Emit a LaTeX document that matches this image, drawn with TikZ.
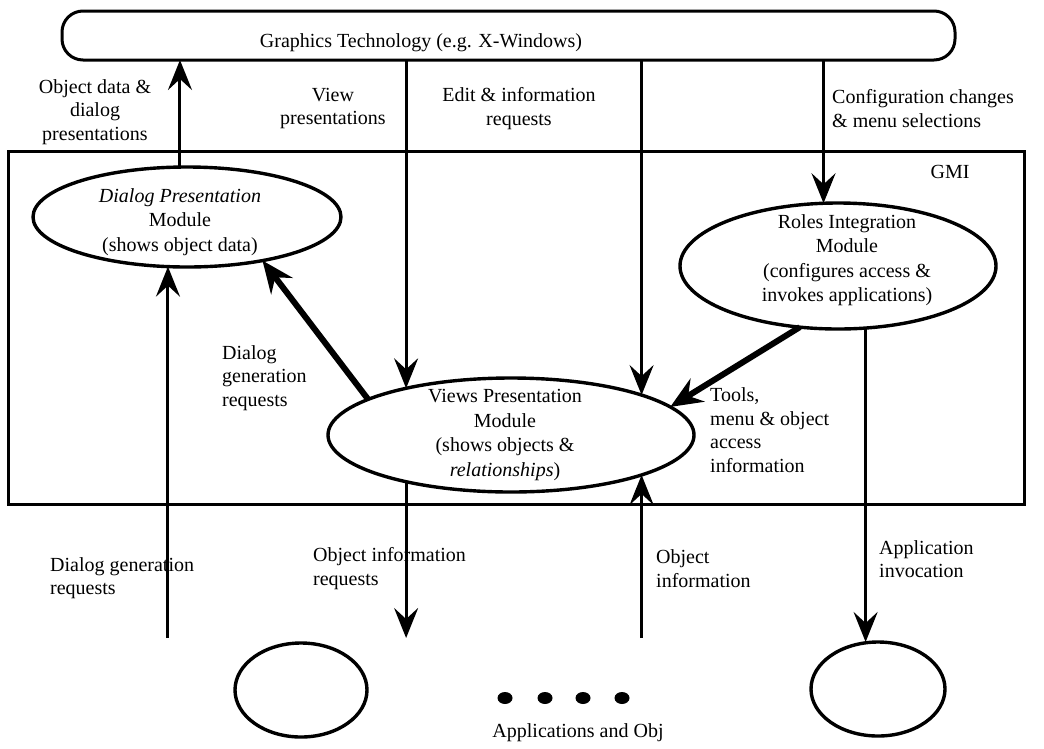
\documentclass[tikz,border=0pt]{standalone}
\usepackage{fontspec}
\setmainfont{Liberation Serif}
\usetikzlibrary{arrows.meta,shapes.geometric}

\begin{document}
\begin{tikzpicture}[x=1pt,y=-1pt,
  txt/.style={font=\fontsize{20}{23.5}\selectfont, inner sep=0pt},
  modtxt/.style={font=\fontsize{20}{24.5}\selectfont, inner sep=0pt, align=center},
  module/.style={ellipse, draw, line width=3.4pt, inner sep=0pt, outer sep=0pt},
  frame/.style={draw, line width=3pt, inner sep=0pt, outer sep=0pt},
  flow/.style={line width=3pt, -{Stealth[length=30pt,width=24pt,inset=11pt]}},
  heavy/.style={line width=6pt, -{Stealth[length=32pt,width=27pt,inset=11pt]}},
  blob/.style={ellipse, fill, inner sep=0pt, minimum width=15pt, minimum height=12pt}
]
\useasboundingbox (0,0) rectangle (1044,748);

% graphics layer and GMI frame
\node[frame, rounded corners=21pt, minimum width=893pt, minimum height=49pt] (gt) at (508.5,35.5) {};
\node[txt] (gtlabel) at (421,43) {Graphics Technology (e.g. X-Windows)};
\node[frame, minimum width=1016pt, minimum height=353pt] (gmi) at (516,327.5) {};
\node[txt] (gmilabel) at (950,172) {GMI};

% modules
\node[module, minimum width=308pt, minimum height=100pt] (dpm) at (187,217) {};
\node[modtxt] (dpmtext) at (180,222) {\textit{Dialog Presentation}\\Module\\(shows object data)};
\node[module, minimum width=366pt, minimum height=114pt] (vpm) at (511,435) {};
\node[modtxt] (vpmtext) at (505,435) {Views Presentation\\Module\\(shows objects \&\\\textit{relationships})};
\node[module, minimum width=316pt, minimum height=126pt] (rim) at (838,266) {};
\node[modtxt] (rimtext) at (847,260) {Roles Integration\\Module\\(configures access \&\\invokes applications)};

% applications and objects
\node[module, minimum width=132pt, minimum height=94pt] (app1) at (301,690) {};
\node[module, minimum width=134pt, minimum height=94pt] (app2) at (878,689) {};
\node[blob] (dot1) at (505,698) {};
\node[blob] (dot2) at (545,698) {};
\node[blob] (dot3) at (583,698) {};
\node[blob] (dot4) at (622,698) {};
\node[txt] (applabel) at (578,733) {Applications and Obj};

% free ends of the connectors below the frame
\coordinate (ends) at (0,638);

% connectors
\draw[flow] (dpm.98) -- (dpm.98 |- gt.south);
\draw[flow] (vpm.156 |- gt.south) -- (vpm.156);
\draw[flow] (vpm.17 |- gt.south) -- (vpm.17);
\draw[flow] (rim.103 |- gt.south) -- (rim.103);
\draw[heavy] (vpm.166) -- (dpm.-30);
\draw[heavy] (rim.-122) -- (vpm.10);
\draw[flow] (dpm.-111 |- ends) -- (dpm.-111);
\draw[flow] (vpm.-156) -- (vpm.-156 |- ends);
\draw[flow] (vpm.-17 |- ends) -- (vpm.-17);
\draw[flow] (rim.-66) -- (rim.-66 |- app2.north);

% connector labels
\node[txt, align=center] (lblobj) at (95,112) {Object data \&\\dialog\\presentations};
\node[txt, align=center] (lblview) at (333,108.5) {View\\presentations};
\node[txt, align=center] (lbledit) at (519,108.5) {Edit \& information\\requests};
\node[txt, align=left, anchor=west] (lblconf) at (832,108.5) {Configuration changes\\\& menu selections};
\node[txt, align=left, anchor=west] (lbldlg) at (222,378) {Dialog\\generation\\requests};
\node[txt, align=left, anchor=west] (lbltools) at (710,430) {Tools,\\menu \& object\\access\\information};
\node[txt, align=left, anchor=west] (lbldgen) at (50,578) {Dialog generation\\requests};
\node[txt, align=left, anchor=west] (lblreq) at (313,568.5) {Object information\\requests};
\node[txt, align=left, anchor=west] (lblinfo) at (656,568.5) {Object\\information};
\node[txt, align=left, anchor=west] (lblinv) at (879,559) {Application\\invocation};
\end{tikzpicture}
\end{document}
